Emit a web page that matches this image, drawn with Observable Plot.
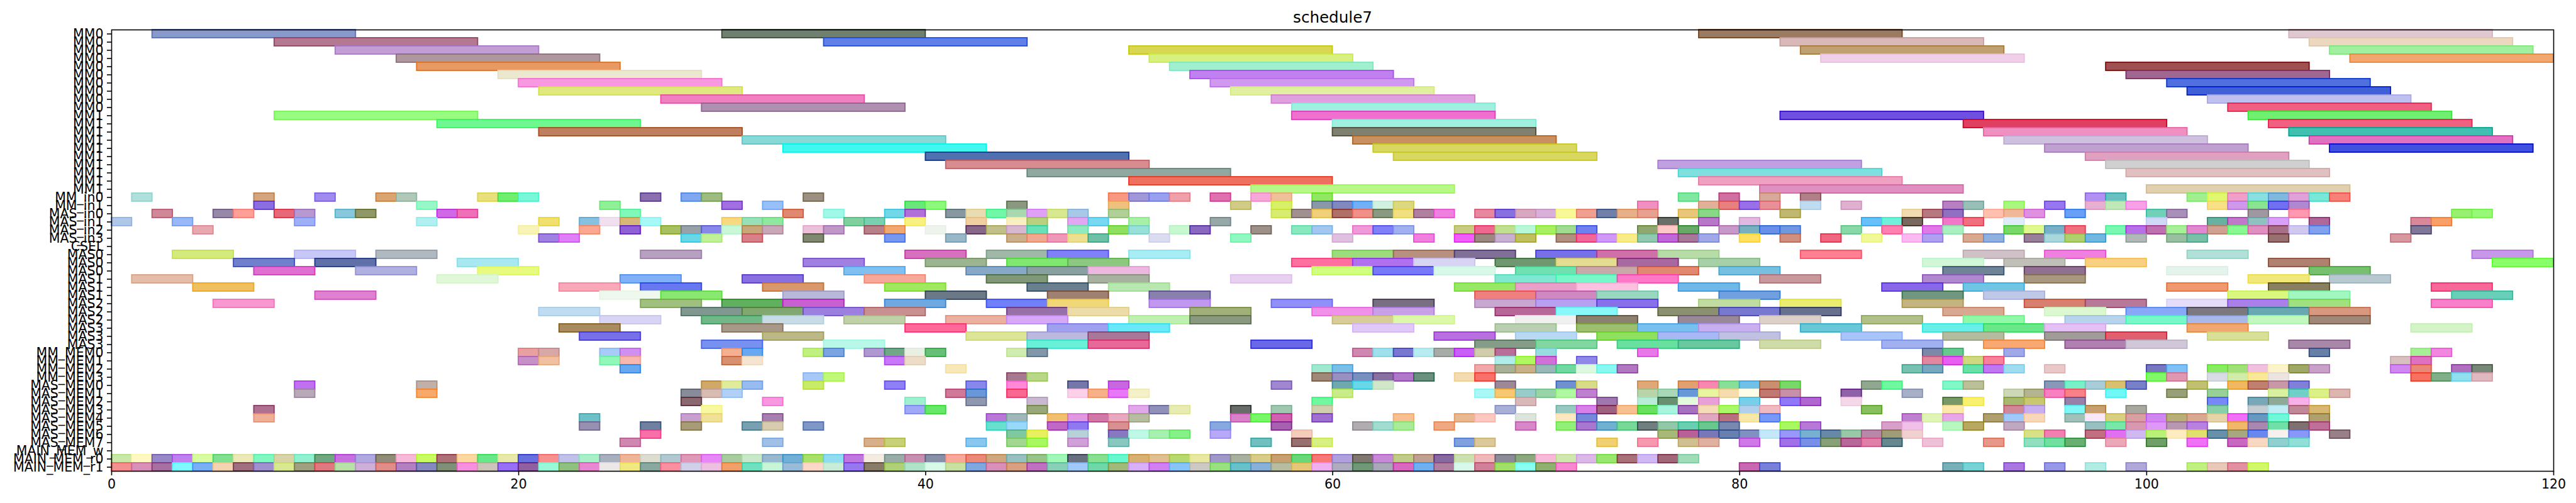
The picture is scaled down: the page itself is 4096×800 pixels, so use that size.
<!DOCTYPE html>
<html><head><meta charset="utf-8">
<script src="https://cdn.jsdelivr.net/npm/d3@7"></script>
<script src="https://cdn.jsdelivr.net/npm/@observablehq/plot@0.6"></script>
<style>body{margin:0;background:#fff}</style>
</head><body><div id="chart"></div>
<script>
const title = "schedule7";
const xTicks = [0, 20, 40, 60, 80, 100, 120];
const rowLabels = [
  "MM0","MM0","MM0","MM0","MM0","MM0","MM0","MM0","MM0","MM0",
  "MM1","MM1","MM1","MM1","MM1","MM1","MM1","MM1","MM1","MM1",
  "MM_in0","MM_in1","MAS_in0","MAS_in1","MAS_in2","MAS_in3","CSEL",
  "MAS0","MAS0","MAS0","MAS1","MAS1","MAS1","MAS2","MAS2","MAS2","MAS3","MAS3","MAS3",
  "MM_MEM0","MM_MEM1","MM_MEM2","MM_MEM3",
  "MAS_MEM0","MAS_MEM1","MAS_MEM2","MAS_MEM3","MAS_MEM4","MAS_MEM5","MAS_MEM6","MAS_MEM7",
  "MAIN_MEM_w","MAIN_MEM_r0","MAIN_MEM_r1"
];
const rowDuration = [
  10,10,10,10,10,10,10,10,10,10, 10,10,10,10,10,10,10,10,10,10,
  1,1,1,1,1,1,1,
  3,3,3,3,3,3,3,3,3,3,3,3,
  1,1,1,1, 1,1,1,1,1,1,1,1, 1,1,1
];
// each segment: start time followed by colours of consecutive bars
const mmBars = [
  "2 8899cc, 30 708070, 78 9a7a60, 107 e0c8d0",
  "8 b47890, 35 6080e8, 82 d8b8b8, 108 ecd8c0",
  "11 c39dd6, 50 d8d850, 83 c0a070, 109 a0f0a0",
  "14 ae979e, 51 d8f080, 84 f0d0e8, 110 f0a870",
  "15 e89a62, 52 a0f0d0, 98 a05050",
  "19 ece8d0, 53 c080f0, 99 a06890",
  "20 f898e0, 54 d098f0, 101 5070e0",
  "21 e0e880, 55 e0f0a0, 102 4060d8",
  "27 f080c0, 57 e0a0e0, 103 c0c0f0",
  "29 b090b0, 58 a0f0e0, 104 f06080",
  "8 98fc80, 58 f070d0, 82 7050e0, 105 70f070",
  "16 70f890, 60 a0f0e0, 91 e04060, 106 f06080",
  "21 c08060, 60 808070, 92 f090c0, 107 40c0b0",
  "31 88d8d8, 61 c89060, 93 d0c0e0, 108 e070c0",
  "33 40f8f0, 62 d8d860, 95 c0a0d0, 109 4050e0",
  "40 5070b0, 63 d8d860, 97 e0a0c0",
  "41 d88c90, 76 c0a0e0, 98 d0d0d0",
  "45 90a8a0, 77 80e0e0, 99 e0c0c0",
  "50 f07060, 78 f0a0c0",
  "56 b8f888, 81 e090c0, 100 e0d0b0"
];
const inBars = [
  "1 b0e0dc, 7 d4a57e, 10 a18bf0, 13 dba470 b0c8b8, 18 e8e07a 70ee70 78f8d8, 26 8a70b0, 28 80a8f0 9cbc80, 34 9c9080, 49 f89880 a098d8 98a0f0 f0a0a8, 54 e070b0, 56 f8a8d8 f0c098, 59 90e860, 77 80e8a0, 79 d070a0, 81 d8a898, 83 b08088, 97 b090f0 68c0c0, 102 a0f090 e0f870 f0a0c8 88e0e0 80b8e0 e0a0d8 78e8d8 f88078",
  "7 8b6fe0, 15 98f8c8, 24 90f098, 30 a070e0, 32 98c0f8, 39 68e878 8cf87c, 44 8a9880, 49 f0c080, 55 d0cc88, 57 d8f068, 59 8898a8 8088c0 70b0f8 d0f0e0 dcd880, 75 f090c0, 78 e0b098 e88080 9870e8 e89098, 83 c0dcf0, 85 e0b0d0, 90 b880c0 98c0b8, 93 a8f880, 95 9878f0, 97 e8b0d0 c0e8b8 f8a0e8, 103 f8e088 d098e8 88e490 7070f0 b088d0",
  "2 d08898, 5 9888a8 ffa098, 8 e86878 b898d0, 11 88c8dc 909868, 16 d068e8 f070b8, 25 80f8b8, 33 e08870, 35 a0f8e8, 38 70d8e8 b070d8, 41 8898a0 e8dcb0 70f8a8 a8d8b0 e0a0f8 d8e890 a8c8e8, 49 b0d098, 57 d8ec70 a09090 f0d078 b07068 f09088 8a9a80 f0e080 b080a0 f080e0, 67 e888a0 8870e0 d8a8c0 d8b0d8 f8f898 f0a090 7080a8 e8b088 e8a090, 77 e8c878 88d888, 82 c0b870, 88 f0dcb0 b87880 9070c0, 92 ffc0b0 f0b898 e090e0, 96 68a0f8, 100 70d0b8 a890b8, 105 a098a0, 107 ff98b0, 115 98f070 98f878",
  "0 b0c8e8, 3 98b8f8, 9 a0b0f8, 15 b0f0f0, 21 f0e070, 23 88c0e0 f0e0f0 d8b878 a8f8f8, 30 f8d880 98e0b8 90e8a0, 36 80d0a0 78d0b0, 39 f8f080, 42 f0d0a0, 44 f8f0c0 b8d080, 47 e0a8f0 78d8f0, 50 a8f0a8, 54 98a8a8, 76 686e68, 78 b878c8, 80 e0b8e0, 86 68c0f8 70f0d8 786860, 90 f078c8 f07080, 93 e0ecf8, 100 d0d8f8, 103 68b0a0 c078c8 90c0c0 d8a0f8, 108 b06898, 113 d88898 f8a068",
  "4 e8a8b0, 20 f8f4b8, 23 fca890, 25 9060d8, 27 a8c060 98a0a8 8888e8 c8f8d8 c8a878 c8a8b8, 34 ecc0d8 c098c8, 37 b88088 f0a870, 40 eef4ec, 42 886888 c0c088 d8b8d0 68e0b8, 47 90eac0, 49 90e060 98e0d8, 52 c8f8d0 8868c0, 56 9c9088, 58 88e8c0 a0c8f0, 61 f098d8 8080f8 a0b0f0, 66 c8cc80 f06890 c0e090 b8f8d8 a8f060 a0dc90 7080f0, 75 90a870 ffc8c8 68a868, 79 c898c8 78b0c0 6890e8 7098e0, 85 88d8a8, 87 ff80b0, 89 e078e8 a8f0c0, 93 78d868 e0f890 78b0c8 f07080, 98 78f8b0 b870e8 c070b0 a8f098 e088d0 d0a090 88f890 e090c0 a87088 d0c8f0 80a0f0, 113 807898",
  "21 a080e0 e080f8, 28 68d8e8 c0f098, 31 d88088, 34 808870, 38 7898f0, 41 98b8c8, 44 ccb08c f0a890 f098b8 ece090 70c0a8, 51 dcdcf0, 55 90f8c0, 60 e0c0e0, 64 f080e0, 66 f060f8 9c8880 c8b0d0 c0c060, 71 b09080 f06898 d098f8 f8ec88 90c8b0 c068d8 a87898 a0a8e8, 80 ffe060, 82 d09080, 84 f06880, 86 f0f898, 88 fcb8f0 b0a0f0, 91 d8a890 90b0e0, 94 988098 a8d8dc b0d070 70b8e0, 99 b0b8b8, 101 98c0a0 78c0a8, 106 987070, 112 d898a0",
  ""
];
const masBars = [
  "3 d4ea7c, 9 c8c8f8, 13 b0b8c0, 26 b8a0c0, 39 d870c0, 43 a0b8a8 8080f8, 50 a8ecf4, 60 9cdc7c b89080 807098, 70 7870e8 d070a8 b8dca8, 83 ff8090, 91 d0c0c8, 95 f080e0, 102 b0e0d8, 116 c898e8",
  "6 7080cc, 10 6070a8, 17 a8e8f0, 34 a080e0, 40 9cb490, 44 80e870 8cc880, 58 ff70a0 b070f0 d8d4f4, 68 709870 e4dc90 a868a0, 78 a8d0a8, 89 d0f8d8, 93 c0c0b8, 97 f8d080, 106 b08070, 117 88ff68",
  "7 e070d0, 12 b0b0e0, 18 e8fa80, 36 80c0f0, 42 88a8c8 8aa0a0 ecb8e0, 59 d0ff80 7878f8 d8f8e8, 69 70e0b0 c8a8a8 e08870, 79 78c0e0, 90 708498, 94 907090, 101 e4f4ec, 108 78c070",
  "1 e4bca8, 16 e0f8d8, 25 80b0f8, 31 8870e0, 37 f8a898, 43 809878, 48 a8b0a0, 55 e8d0f0, 68 80e8d0 78f8c8 ff78c8, 81 c8989c, 89 b088d0, 94 a89880, 105 f0e878, 109 b8c8d0",
  "4 f0c060, 22 f8a8b8, 26 6878f0, 32 d8986c, 38 a0e860, 45 6a8090, 49 b8e8b0, 66 98e868 e8a0c8 fcc0e0, 77 70b8e8, 87 8868e8, 91 70c4e4, 101 f09870, 106 888060, 114 f86898",
  "10 e080d0, 24 eef8ec 88e870, 33 b8b8d8, 40 6a7888, 46 a08070, 51 8a80b0, 67 f08080 d088c0 98d8c0, 79 70a0e0, 88 709880, 92 c0c8e8, 104 d8f880 a0f8c0, 115 68d0b8",
  "5 f898d0, 26 a0c080, 30 60b060 c860d0, 38 70a8e0, 43 7080f8 f0d878, 51 c098f0, 57 9090f8, 62 787080, 67 c8a8d0 b8a0f0 8870e8, 78 c0dca0, 82 e8ec70, 88 c4b480, 94 d88070 b87898, 101 e4dcf8 a880e8 a0e080, 114 f880c8",
  "21 c0dcf0, 28 809890 80a870 9c80e0 c89090, 44 9870a8 ecdca8, 53 a0b078, 59 f090e8 c8a0e8, 68 b86898 88f8f8, 76 8a9070 7878d0 687090, 90 d8a890, 95 dcf8d0, 99 88a8f8 7c7880 68a8b0 d89880",
  "24 d8d4f4, 29 70b888 c8dce8, 36 c0d0a8, 41 eab0a0 d8a8f8, 50 c0f0b0 8a9880, 60 d8cc98 dcf8a8, 69 f0f0f0 8c8070, 77 988898, 81 dcd0c8, 86 b0c088, 91 90f8a8, 96 b8d4ec 78f8c8 a8b8e8 c0f8c0 a08878",
  "22 a88c60, 30 a89888, 39 ff6898, 46 a0a0f0 68e8f8, 61 e0c8f8, 68 b8d0b0, 72 9cc070 78c0f0 c8b0f0, 83 68c8d8, 89 68f0e8 68e888 e4c0f4, 102 f0a870, 113 d4f4c8",
  "23 7870e8, 32 bcb888, 42 dce498 bcb8e0 a87898, 65 b870e0, 69 b8d8f4, 73 90e060 a8b8f4 c0c0e0, 85 a8c4f8, 90 b4bca0, 95 a09c98 e06070, 103 d8e098",
  "29 7890f0, 35 b8f8e8, 45 68f0d8 e86898, 56 6868e8, 67 849c88 80d8a0, 74 68e0a0 68c8a0, 81 d0dca8, 87 a0b0f0, 92 f8a870, 96 b080b0 d0c8d8, 107 a888a8"
];
const memBars = [
  "20 e8a0a0 d8a8a8, 24 a8ccf8 d090f0, 30 f4b090 68a8f0, 34 c0f080 7ca4e0, 37 b098d0 70a888 e8f0e4 68c078, 44 d0ecb0 8098a8, 61 d088b0 a0e0ec 7878d0 b8ecf0 a8aca8 c860f8 d0ccac b87098, 70 98dce0, 75 e878e8, 89 7c88a8 68c890, 93 a0a8e8, 108 6880a8, 113 a8f098 f088e0",
  "20 c890c8 f0c0a0, 24 90f8b8 f8b8b0, 30 d89070 f4e4d0, 38 c878f8 ecdcc8, 68 b0ece8 b0f860 d070d8, 72 9088e8, 89 e088a0 e860f0 d0d880 f88098, 112 d8c0c0 e070c0",
  "25 68a8f0, 41 f8e8b8, 59 a0e8d0 78c0e8, 67 f0a8a8 a8b098 c8b088 98b8b8 70d8a0 dcf8e0 88f8f0 b078c0, 88 78c0b0 78a8c0, 91 68e0a8 c078f0 a0dcf0, 95 e8c8c8, 100 7878c0 80c0f8, 103 88ec60 a0e078 f0c0e0 fcf4c8 a0a868 c8a0c8, 112 d088f0 e88878, 115 b070c0 788878",
  "34 a8c8f8 c0f878, 44 a87890 b8d888, 59 a08878 9890c0 7890c0 8870a0 b078c8 6c9080, 66 f4dcb0 f87068, 100 80f868 e098b0, 103 d8dce4 d0eca8 f8e898 ece4e0, 113 f87060 80b088 90e0f0 e0b8c0",
  "9 c070f0, 15 c0b0a8, 29 d0a868 e0ec9c 98bcf0, 34 c8ec68, 38 9080f8, 42 8888ec, 44 ff88d8, 47 7478a8, 49 c868e0, 57 a088d0, 60 70a8b0 68d8e8 d0e8c8, 68 9c8898, 71 7090d0 d8dc88, 75 e0a878, 77 e0a070 f888b0 88e098 70c0e8 c89070 78d868, 86 90a890 70f8a0, 90 80f8c8 bcc098, 95 8898b8 78f0c8 a8ccd8 d8c070 7880c8, 102 c0c070, 104 f0b860 c08070 c898a8 8080d8",
  "9 b8a8b8, 15 f8a868, 28 888c98 d8bcb4 b0d0f8, 41 d07898 6898d8, 44 f86890, 47 fcd0e8 f8b088 e878f8 f4f0c8, 60 c8ec88, 67 a8f8f8 f8c870 98ccc8 98d4a8 b0f8a0 c080d0, 75 b8d4a8 a8d8b8 6898d8 e8f4a0 f4dcac fffce8 c07870 c890a8, 85 9060a8, 88 a8b0c8, 93 ccd8b8 b4b490 f880c0 f88088, 98 70f8f8, 101 98a078, 103 98d098, 106 d8f0a0 70d0c8 dcf088 dcb4b0",
  "28 8a6870, 32 f898e0, 39 a0f0d0, 42 9098b0, 45 c8b8d0, 59 70f8a0, 69 d8b8b8, 73 a078b0, 75 b8ecd8 689070 e4f8dc e8a0d8, 80 78d0e8, 82 9078f8 b068d0, 85 f4d8e8, 90 789868 f8f070, 93 a8b870 c8c870, 96 9880a8, 103 7888f8, 105 78a8b8 90a898 f8b0e8",
  "7 b07090, 29 f8f8a0, 39 a0a8f8 68e868, 45 98a878, 50 e0a8e8 9090b8 e8ecb0, 55 686c68, 57 a0c8b0, 59 d0d0b0, 68 a8b0d8, 71 98c8c0 d880e8 a06080 f8c090 68e060 a8f4dc a870c0 f4dcb8 a8f868 b0d0ec f0b8c0, 86 88c060, 90 fce8a8, 93 d08898 c8b0f0, 96 80f8f8 c8a070, 99 a8a8a0, 103 88d0a8, 105 c4ccd4 c0ecf4 c08898 d8b870",
  "7 f0b098, 23 70c0c8, 28 c8a0d0 f0e098, 32 a880b0, 43 b878d8 a0b8b8, 46 f0c070 e098e0 d078a8 e8a8c0 b8bca0, 55 d880c8 78f868 d060b0, 59 a070d0, 63 f8c090, 66 e8b890 fcc8c0, 69 dce4dc, 71 fce8c0 7888d8, 78 e0a8c0 b87080 f8e8a8 7898f8, 88 c080d0 e0f4b8 e8a8e8, 92 b0a070 a0c8f8 f8d8b8, 96 a0c0b8 f8e8f8 d8d080 d8a0a0 d088f0 b8b078 d8a890 e4d4a8 f070f8 6898c0 70f8d8, 108 b0a070",
  "23 9890b0, 26 7080a0, 28 a89c78, 31 78a0b0 d8ccb0, 34 8098c8, 43 68e0d0 98d8f8, 46 c068c8 9078f0, 49 d89090, 54 88a8e0, 57 a860b0, 61 b0acb0 a0dcd0 a8ec98, 65 f0a880, 69 d888c8, 71 90f078 a878d0 70b0d0 78d898 707e80 90c8a8 68d0b0 68c890 7888b0, 82 a8f860 b878d8, 87 d8a0c8 f0c0e8, 90 b8f8c0 b8a860, 93 c0a8c0, 97 98c0c0 78e8a8 d898b0 e098f8 b898b0 b880e0, 104 f0b868 a888b0 70e0a8 807070 c07098",
  "26 f870a8, 44 80c8a0 e8f060, 47 b8d0d8, 49 8878c0 c0f8e8 a8f0b0 88f088, 54 b8a8f8, 58 f4ccbc, 76 a8b878 b86098 7878b8 6880b0 8090c0 c4e8f8 9898f8 78b0d0 6888a8 98c8a8 b888a8 a09c78 f0d0d0, 94 d8e088 f080b0, 97 c07080 e070f0 d0b8f0 b8f078 fcecc0 e0e070 6890a8 a8a880 6888f0 f8f0ec 8898f8, 109 988088",
  "25 d088b0, 32 a0c0e8, 37 d8b088 c8d078, 42 88c8f0, 44 a0d890 a8f860, 47 d0a0d8, 49 88c8c0, 56 70c0c0, 58 987070 d8f080, 66 80a0e0 dcc898, 73 f0d070, 75 f898b0, 77 d0c090 e0b0a0, 80 d078e8, 82 a070e8 7890e8 88a078 b86898 e080a8 688890, 89 f0c0d8, 92 e89888, 94 90e0c0 70e0a0 68b070, 98 eca8b8, 100 70a068, 102 f070f8, 104 c868c0 f8d8c0 90d0d0 90e0d8"
];
const mainBars = [
  "",
  "0 c8e8a8 fff8c0 9888c8 c080f0 d8fca0 80e090 ece8b8 80f8c0 d8d4a8 90f0d0 70a880 c870e0 b0a8e0 908c78 f8b8d8 c8fc60 b07078 fcd8a0 68e888 e8e8a8 6870e0 f89090 c0c0e8 a8f0c8 a8b0c0 f0b498 dcdcd0 b0c8d0 e098b8 e888f8 a8cca0 c8e8c8 98b8d0 70b0d8 a8e068 90dcf0 c078e0 f4ece0 98aca8 c890b0 8890a8 f8a898 ec8878 d0a880 98c0c0 98c488 a0f8b8 687080 88e090 68f8d0 d8b070 e0c090 b8d870 e8e8a0 a098c8 a8b0a0 d8cc88 c8a070 68d878 f87878 b0a0e0 807870 c888d8 c0cc88 c0a090 8868a0 cce0b0 f0b8b8 8c8c98 8ca880 f8b8d8 d0e8b0 dcb8e8 98e870 a87078 d0b8f4 a06878 a0dcb8",
  "0 f49090 d890b8 a870a0 80f8ff 78b0f8 f4d4b0 a07080 a090d0 d8e890 a0a080 e07880 b8e0a8 ccb0d8 e08c88 b080c0 8888c0 809078 f890e0 ccc4b8 9870f8 9060a0 98f8d8 90c080 e888d0 ece8e8 f0e880 88a8a0 f890a0 d0d0e8 ecc0e0 f0a068 70e0c0 c8f4d8 98bcd8 fcd8c8 c8ecd8 9878f0 887c68 b0d078 b0e4c8 d8f8e8 c8e0a0 80a8e0 d890b8 d8a080 c070c0 88d0b8 a0c8f8 70d8a8 a0b878 d8b0f8 d080f0 88c4f8 ccc8c4 98e080 68c0c8 88b0d8 b8bca0 e4c878 f0b0f0 b0acc0 709878 a8a8b8 d868c0 70b0f0 b080a0 d8f8ec d08098 a0e068 88fff0 90b070 f888d0, 80 c868b0 7880d8, 90 78b0b8 78d4d4, 93 a878e0, 95 9898e8, 97 b0ece4, 99 b0a8d8, 102 c0f080 e8c8b8 e090a0 d0f868"
];

const rowBars = [...mmBars, ...inBars, ...masBars, ...memBars, ...mainBars];
const bars = [];
rowBars.forEach((s, row) => {
  if (!s.trim()) return;
  s.split(",").forEach(seg => {
    const parts = seg.trim().split(/\s+/);
    const start = +parts[0];
    parts.slice(1).forEach((c, i) => {
      const x1 = start + i * rowDuration[row];
      bars.push({row, x1, x2: x1 + rowDuration[row], color: "#" + c});
    });
  });
});
function edgeColor(c) {
  const r = d3.rgb(c);
  const f = v => Math.max(0, Math.round(255 - 1.4 * (255 - v)));
  return d3.rgb(f(r.r), f(r.g), f(r.b)).formatHex();
}
bars.forEach(b => b.edge = edgeColor(b.color));

const chart = Plot.plot({
  width: 4096, height: 800,
  marginLeft: 177, marginRight: 36, marginTop: 47, marginBottom: 51,
  style: {fontFamily: "DejaVu Sans", fontSize: "20.5px", background: "white", color: "black"},
  x: {domain: [0, 120], label: null},
  y: {domain: [53.5, -0.5], label: null},
  color: {type: "identity"},
  marks: [
    Plot.rect(bars, {x1: "x1", x2: "x2", y1: d => d.row - 0.5, y2: d => d.row + 0.5,
      fill: "color", stroke: "edge", strokeWidth: 1.8}),
    Plot.frame({stroke: "black", strokeWidth: 1.6}),
    Plot.axisX({ticks: xTicks, tickSize: 7, tickPadding: 6, strokeWidth: 1.6, fontSize: 20.5, label: null}),
    Plot.axisY({ticks: d3.range(rowLabels.length), tickFormat: i => rowLabels[i], tickSize: 7, tickPadding: 6, strokeWidth: 1.6, fontSize: 20.5, label: null}),
    Plot.text([title], {frameAnchor: "top", dy: -12, lineAnchor: "bottom", fontSize: 24.6, fill: "black"})
  ]
});
document.getElementById("chart").appendChild(chart);
</script>
</body></html>
